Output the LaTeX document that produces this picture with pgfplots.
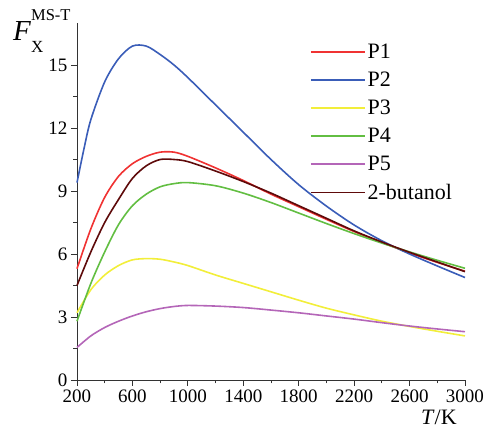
\documentclass[border=0pt]{standalone}
\usepackage{fontspec}
\setmainfont{Liberation Serif}
\usepackage{pgfplots}
\pgfplotsset{compat=1.18}
\definecolor{cP1}{HTML}{F03232}
\definecolor{cP2}{HTML}{3A5DB8}
\definecolor{cP3}{HTML}{F2EE3A}
\definecolor{cP4}{HTML}{62BE42}
\definecolor{cP5}{HTML}{B466B8}
\definecolor{cBu}{HTML}{5E0A0A}
\begin{document}
\begin{tikzpicture}
\begin{axis}[
  scale only axis, width=388pt, height=357pt,
  xmin=200, xmax=3000, ymin=0, ymax=17,
  axis lines=left, axis line style={-, line width=0.8pt, black!80},
  xtick={200,600,...,3000}, ytick={0,3,...,15},
  minor x tick num=1, minor y tick num=1,
  tick align=outside, major tick length=6pt, minor tick length=3.5pt,
  tick style={line width=0.8pt, black!80},
  /pgf/number format/assume math mode=true,
  /pgf/number format/1000 sep={},
  tick label style={font=\fontsize{19}{20}\selectfont},
  legend cell align=left,
  legend style={draw=none, fill=none, at={(rel axis cs:0.6,0.947)}, anchor=north west,
    font=\fontsize{22}{22}\selectfont, row sep=8pt, inner sep=0pt},
  legend image code/.code={\draw[#1, line width=1.6pt] (0pt,0pt) -- (54pt,0pt);},
  clip=false,
]
\addplot[color=cP1, line width=1.6pt, smooth] coordinates {(200,5.3)(300,7.2)(400,8.7)(500,9.7)(600,10.3)(700,10.65)(800,10.85)(900,10.85)(1000,10.65)(1200,10.1)(1400,9.5)(1600,8.85)(1800,8.25)(2000,7.65)(2200,7.07)(2400,6.55)(2600,6.05)(2800,5.6)(3000,5.18)};
\addlegendentry{P1}
\addplot[color=cP2, line width=1.6pt, smooth] coordinates {(200,9.4)(250,11.0)(300,12.4)(400,14.2)(500,15.3)(600,15.9)(700,15.9)(800,15.5)(900,15.0)(1000,14.4)(1200,13.1)(1400,11.8)(1600,10.5)(1800,9.3)(2000,8.28)(2200,7.38)(2400,6.63)(2600,6.0)(2800,5.43)(3000,4.88)};
\addlegendentry{P2}
\addplot[color=cP3, line width=1.6pt, smooth] coordinates {(200,3.2)(300,4.3)(400,5.0)(500,5.45)(600,5.72)(700,5.78)(800,5.75)(900,5.62)(1000,5.45)(1200,5.0)(1400,4.6)(1600,4.2)(1800,3.8)(2000,3.42)(2200,3.1)(2400,2.8)(2600,2.55)(2800,2.32)(3000,2.1)};
\addlegendentry{P3}
\addplot[color=cP4, line width=1.6pt, smooth] coordinates {(200,2.8)(300,4.6)(400,6.1)(500,7.4)(600,8.3)(700,8.85)(800,9.2)(900,9.35)(1000,9.4)(1200,9.25)(1400,8.9)(1600,8.45)(1800,7.95)(2000,7.45)(2200,6.97)(2400,6.52)(2600,6.1)(2800,5.7)(3000,5.32)};
\addlegendentry{P4}
\addplot[color=cP5, line width=1.6pt, smooth] coordinates {(200,1.55)(300,2.1)(400,2.5)(500,2.8)(600,3.05)(700,3.25)(800,3.4)(900,3.5)(1000,3.55)(1200,3.52)(1400,3.45)(1600,3.33)(1800,3.2)(2000,3.05)(2200,2.9)(2400,2.73)(2600,2.57)(2800,2.43)(3000,2.3)};
\addlegendentry{P5}
\addplot[color=cBu, line width=1.6pt, smooth] coordinates {(200,4.5)(300,6.1)(400,7.5)(500,8.6)(600,9.6)(700,10.2)(800,10.5)(900,10.5)(1000,10.4)(1200,9.95)(1400,9.45)(1600,8.9)(1800,8.3)(2000,7.7)(2200,7.1)(2400,6.57)(2600,6.08)(2800,5.62)(3000,5.16)};
\addlegendentry{2-butanol}
\node[anchor=base west, inner sep=0pt] at (rel axis cs:-0.165,0.952)
  {\fontsize{29}{29}\selectfont\textit{F}\rlap{\raisebox{20pt}{\fontsize{16.5}{17}\selectfont MS-T}}\raisebox{-12pt}{\fontsize{17}{17}\selectfont X}};
\node[anchor=base east, inner sep=0pt] at (rel axis cs:0.979,-0.124)
  {\fontsize{22}{22}\selectfont\textit{T}/K};
\end{axis}
\path ([shift={(-77pt,-51pt)}]current axis.south west) rectangle ([shift={(23pt,23pt)}]current axis.north east);
\end{tikzpicture}
\end{document}
